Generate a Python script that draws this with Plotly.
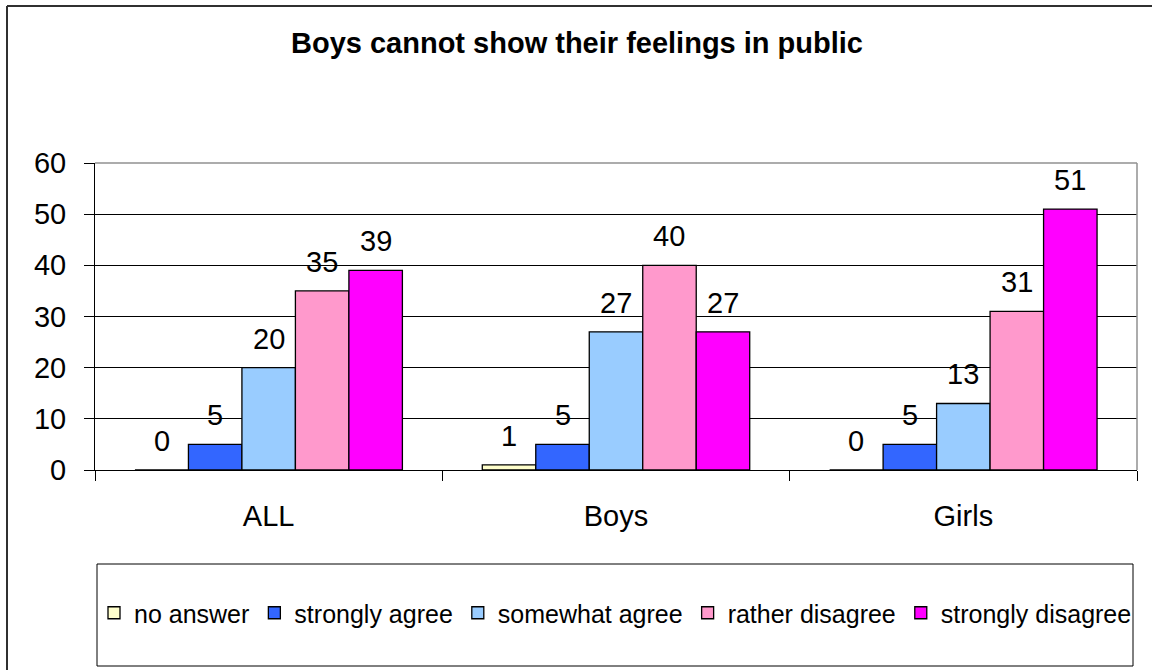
import plotly.graph_objects as go

categories = ["ALL", "Boys", "Girls"]
series_names = ["no answer", "strongly agree", "somewhat agree", "rather disagree", "strongly disagree"]
no_answer = [0, 1, 0]
strongly_agree = [5, 5, 5]
somewhat_agree = [20, 27, 13]
rather_disagree = [35, 40, 31]
strongly_disagree = [39, 27, 51]
colors = ["#FFFFCC", "#3366FF", "#99CCFF", "#FF99CC", "#FF00FF"]

series_values = [no_answer, strongly_agree, somewhat_agree, rather_disagree, strongly_disagree]

FONT = "Arial, Liberation Sans, sans-serif"

W, H = 1152, 670
L, R, T, B = 95, 15, 163, 200
pw, ph = W - L - R, H - T - B
BARGAP = 0.23
nser = len(series_names)
bar_px = pw / len(categories) * (1 - BARGAP) / nser


def px_x(p):
    return (p - L) / pw


def px_y(p):
    return (H - B - p) / ph


fig = go.Figure()
annotations = []
for i, (name, vals, col) in enumerate(zip(series_names, series_values, colors)):
    fig.add_trace(go.Bar(
        x=categories, y=vals, name=name,
        marker=dict(color=col, line=dict(color="black", width=1.3)),
    ))
    for c, v in zip(categories, vals):
        annotations.append(dict(
            x=c, y=v, xref="x", yref="y", text=str(v), showarrow=False,
            xshift=(i - (nser - 1) / 2) * bar_px, yanchor="bottom", yshift=11,
            font=dict(family=FONT, size=29, color="black"),
        ))

fig.update_layout(
    width=W, height=H,
    margin=dict(l=L, r=R, t=T, b=B),
    paper_bgcolor="white", plot_bgcolor="white",
    barmode="group", bargap=BARGAP, bargroupgap=0,
    font=dict(family=FONT, color="black"),
    title=dict(text="<b>Boys cannot show their feelings in public</b>",
               font=dict(family=FONT, size=29, color="black"),
               x=px_x(577), xref="paper", xanchor="center",
               y=1 - 43 / H, yref="container", yanchor="middle"),
    showlegend=True,
    legend=dict(orientation="h", x=px_x(94), xanchor="left",
                y=px_y(613), yanchor="middle",
                font=dict(family=FONT, size=25, color="black"),
                bgcolor="rgba(0,0,0,0)", borderwidth=0,
                traceorder="normal", itemclick=False),
    xaxis=dict(showline=True, linecolor="black", linewidth=1,
               ticks="outside", ticklen=10, tickcolor="black",
               tickson="boundaries",
               tickfont=dict(family=FONT, size=29, color="black"),
               ticklabelstandoff=20,
               showgrid=False, zeroline=False),
    yaxis=dict(range=[0, 60], dtick=10, showline=True, linecolor="black",
               linewidth=1, ticks="outside", ticklen=10, tickcolor="black",
               tickfont=dict(family=FONT, size=29, color="black"),
               ticklabelstandoff=12,
               showgrid=True, gridcolor="black", gridwidth=1,
               zeroline=False),
    annotations=annotations,
)

shapes = [
    # plot area top and right border (gray)
    dict(type="line", xref="paper", yref="paper", x0=0, x1=1, y0=1, y1=1,
         line=dict(color="#909090", width=1.5)),
    dict(type="line", xref="paper", yref="paper", x0=1, x1=1, y0=0, y1=1,
         line=dict(color="#909090", width=1.5)),
    # legend box
    dict(type="rect", xref="paper", yref="paper",
         x0=px_x(97), x1=px_x(1133), y0=px_y(666), y1=px_y(564),
         line=dict(color="black", width=1)),
    # outer chart border (left and top edges visible)
    dict(type="line", xref="paper", yref="paper",
         x0=px_x(7), x1=px_x(7), y0=px_y(672), y1=px_y(6),
         line=dict(color="#303030", width=2)),
    dict(type="line", xref="paper", yref="paper",
         x0=px_x(7), x1=px_x(1160), y0=px_y(6), y1=px_y(6),
         line=dict(color="#303030", width=2)),
]
fig.update_layout(shapes=shapes)

fig.write_html("out.html", config={"displayModeBar": False},
               post_script="document.body.style.margin='0';")
